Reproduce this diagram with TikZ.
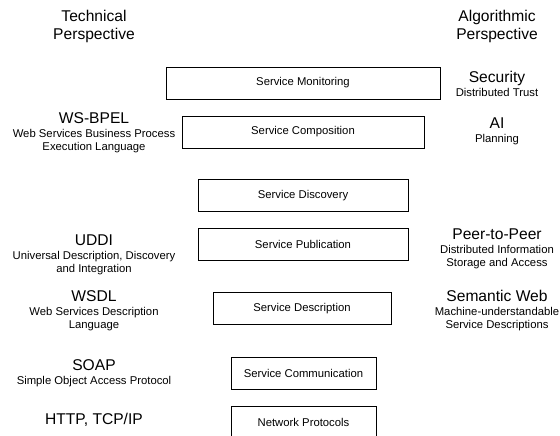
\documentclass[tikz,border=0pt]{standalone}
\usepackage{fontspec}
\setmainfont{Liberation Sans}
\usetikzlibrary{positioning}

\begin{document}
\begin{tikzpicture}[x=1pt,y=-1pt,
		tier/.style={draw,line width=0.9pt,minimum height=32pt,inner sep=0pt,font=\fontsize{11.3}{12.3}\selectfont},
		heading/.style={anchor=base,inner sep=0pt,align=center,font=\fontsize{15.6}{17.5}\selectfont},
		gloss/.style={inner sep=0pt,align=center,font=\fontsize{11.3}{12.3}\selectfont}]
		\useasboundingbox (0,0) rectangle (560,436);
		% the layers, top to bottom
		\node[tier,minimum width=274pt] (monitoring) at (303,83) {Service Monitoring};
		\node[tier,minimum width=242pt] (composition) at (303,132) {Service Composition};
		\node[tier,minimum width=210pt] (discovery) at (303,195.5) {Service Discovery};
		\node[tier,minimum width=210pt] (publication) at (303,244) {Service Publication};
		\node[tier,minimum width=178pt] (description) at (302,308.5) {Service Description};
		\node[tier,minimum width=145pt] (communication) at (303.5,373) {Service Communication};
		\node[tier,minimum width=145pt] (network) at (303.5,422.5) {Network Protocols};
		% technical side
		\node[heading,anchor=north] (technical) at (94,10) {Technical\\Perspective};
		\node[heading] (wsbpel) at (94,123.6) {WS-BPEL};
		\node[gloss,below=6pt of wsbpel.base] (wsbpeltext) {Web Services Business Process\\Execution Language};
		\node[heading] (uddi) at (94,245.6) {UDDI};
		\node[gloss,below=6pt of uddi.base] (udditext) {Universal Description, Discovery\\and Integration};
		\node[heading] (wsdl) at (94,301.6) {WSDL};
		\node[gloss,below=6pt of wsdl.base] (wsdltext) {Web Services Description\\Language};
		\node[heading] (soap) at (94,370.6) {SOAP};
		\node[gloss,below=6pt of soap.base] (soaptext) {Simple Object Access Protocol};
		\node[heading] (http) at (94,424.6) {HTTP, TCP/IP};
		% algorithmic side
		\node[heading,anchor=north] (algorithmic) at (497,10) {Algorithmic\\Perspective};
		\node[heading] (security) at (497,82.6) {Security};
		\node[gloss,below=6pt of security.base] (securitytext) {Distributed Trust};
		\node[heading] (ai) at (497,128.6) {AI};
		\node[gloss,below=6pt of ai.base] (aitext) {Planning};
		\node[heading] (ptp) at (497,239.6) {Peer-to-Peer};
		\node[gloss,below=6pt of ptp.base] (ptptext) {Distributed Information\\Storage and Access};
		\node[heading] (semweb) at (497,301.6) {Semantic Web};
		\node[gloss,below=6pt of semweb.base] (semwebtext) {Machine-understandable\\Service Descriptions};
	\end{tikzpicture}
\end{document}
